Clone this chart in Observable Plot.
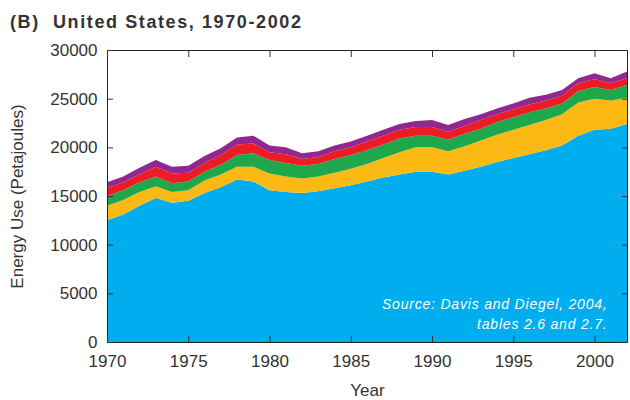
<!DOCTYPE html>
<html><head><meta charset="utf-8">
<script src="https://cdn.jsdelivr.net/npm/d3@7"></script>
<script src="https://cdn.jsdelivr.net/npm/@observablehq/plot@0.6"></script>
<style>
body{margin:0;background:#fff;font-family:"Liberation Sans",Arial,sans-serif;}
#title{height:40px;font-weight:bold;font-size:18px;letter-spacing:1.6px;color:#333;padding-left:10px;line-height:44px;box-sizing:border-box;white-space:pre;overflow:visible;}
</style></head><body>
<div id="title"></div>
<div id="chart"></div>
<script>
const titleText = "(B)  United States, 1970-2002";
const yAxisLabel = "Energy Use (Petajoules)";
const xAxisLabel = "Year";
const sourceText = "Source: Davis and Diegel, 2004,\ntables 2.6 and 2.7.";
const xTicks = [1970, 1975, 1980, 1985, 1990, 1995, 2000];
const yTicks = [0, 5000, 10000, 15000, 20000, 25000, 30000];

const years = [1970,1971,1972,1973,1974,1975,1976,1977,1978,1979,1980,1981,1982,1983,1984,1985,1986,1987,1988,1989,1990,1991,1992,1993,1994,1995,1996,1997,1998,1999,2000,2001,2002];
const seriesNames = ["Series 1","Series 2","Series 3","Series 4","Series 5"];
const seriesColors = ["#00aeef","#fdb913","#1ea84b","#ed1c24","#92278f"];
const series1 = [12500,13100,14000,14800,14300,14500,15300,15900,16700,16500,15600,15400,15300,15500,15800,16100,16500,16900,17200,17500,17500,17200,17600,18000,18500,18900,19300,19700,20200,21200,21800,21900,22400];
const series2 = [1500,1500,1400,1200,1100,1100,1300,1300,1300,1500,1700,1600,1500,1500,1600,1700,1800,2000,2300,2500,2500,2400,2500,2700,2800,2900,3000,3100,3200,3400,3200,2900,2700];
const series3 = [1000,1000,1000,1000,900,900,900,1000,1200,1400,1400,1400,1300,1300,1400,1400,1400,1400,1400,1200,1200,1200,1300,1200,1300,1300,1300,1200,1100,1200,1200,1100,1300];
const series4 = [800,800,800,1000,1000,900,900,1000,1100,1000,800,900,700,700,800,800,900,900,900,900,900,800,800,900,800,800,800,800,800,800,800,700,700];
const series5 = [600,600,700,700,700,700,700,700,700,800,700,700,600,600,600,600,600,600,600,600,700,700,700,600,600,600,700,600,600,500,600,500,700];

document.getElementById("title").textContent = titleText;

const allSeries = [series1, series2, series3, series4, series5];
const rows = [];
years.forEach((yr, i) => allSeries.forEach((s, k) => rows.push({year: yr, mode: seriesNames[k], value: s[i]})));

const chart = Plot.plot({
  width: 630, height: 360,
  marginTop: 10, marginBottom: 58, marginLeft: 107, marginRight: 3,
  style: {fontFamily: "'Liberation Sans', Arial, sans-serif", fontSize: "17px", color: "#333", background: "white"},
  x: {domain: [1970, 2002]},
  y: {domain: [0, 30000]},
  color: {domain: seriesNames, range: seriesColors},
  marks: [
    Plot.areaY(rows, {x: "year", y: "value", fill: "mode", z: "mode"}),
    Plot.text([sourceText], {text: d => d, frameAnchor: "bottom-right", textAnchor: "end", lineAnchor: "bottom", dx: -20, dy: -14, fill: "white", fontStyle: "italic", fontSize: 14, lineHeight: 1.36}),
    Plot.frame({stroke: "#222"}),
    Plot.axisX({anchor: "bottom", ticks: xTicks, tickSize: -6, tickPadding: 18, tickFormat: d => String(d), label: xAxisLabel, labelAnchor: "center", labelArrow: "none", labelOffset: 53}),
    Plot.axisX({anchor: "top", ticks: xTicks, tickSize: -6, tickFormat: () => "", label: null}),
    Plot.axisY({anchor: "left", ticks: yTicks, tickSize: -6, tickPadding: 16, tickFormat: d => String(d), label: yAxisLabel, labelAnchor: "center", labelArrow: "none", labelOffset: 97}),
    Plot.axisY({anchor: "right", ticks: yTicks, tickSize: -6, tickFormat: () => "", label: null})
  ]
});
chart.querySelectorAll("text").forEach(t => {
  if (t.textContent.startsWith("Source")) t.setAttribute("letter-spacing", "0.8");
});
document.getElementById("chart").appendChild(chart);
</script>
</body></html>
